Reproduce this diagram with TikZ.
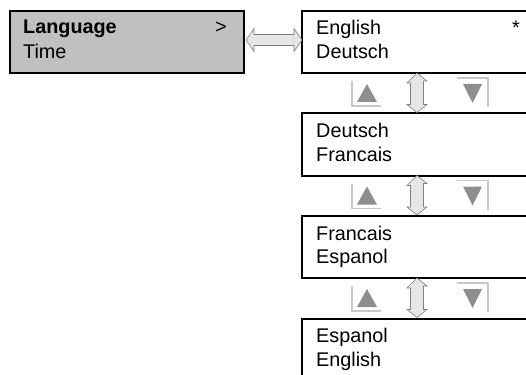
\documentclass[tikz,border=0pt]{standalone}
\usepackage{fontspec}
\setmainfont{Liberation Sans}
\definecolor{menugray}{HTML}{C0C0C0}
\definecolor{arrowfill}{HTML}{E6E6E6}
\definecolor{arrowline}{HTML}{7F7F7F}
\definecolor{trifill}{HTML}{8E8E8E}
\definecolor{framegray}{HTML}{C8C8C8}
\tikzset{
  lbox/.style={draw=black, line width=2pt, fill=menugray, minimum width=234pt, minimum height=62pt, inner sep=0pt, anchor=north west},
  rbox/.style={draw=black, line width=2pt, fill=white, minimum width=250pt, minimum height=62pt, inner sep=0pt, anchor=north west},
  txt/.style={font=\fontsize{19.8}{22}\selectfont, inner sep=0pt, anchor=base west},
  dbl/.style={draw=arrowline, fill=arrowfill, line width=0.6pt, line join=miter},
  tri/.style={fill=trifill},
  frame/.style={draw=framegray, line width=1.6pt},
}
\begin{document}
\begin{tikzpicture}[x=1pt, y=-1pt]
\clip (0,0) rectangle (526,374);
\fill[white] (0,0) rectangle (526,374);
% left menu box
\node[lbox] (menu) at (9,10) {};
\node[txt, font=\fontsize{19.8}{22}\selectfont\bfseries] (lang) at (23,34) {Language};
\node[txt] (time) at (23,58.5) {Time};
\node[txt] (gt) at (215,34) {>};
% right boxes
\node[rbox] (r0) at (301,10) {};
\node[rbox] (r1) at (301,112.5) {};
\node[rbox] (r2) at (301,215) {};
\node[rbox] (r3) at (301,317.5) {};
\node[txt] (r0a) at (316,35) {English};
\node[txt] (r0b) at (316,58.5) {Deutsch};
\node[txt] (star) at (512,35) {*};
\node[txt] (r1a) at (316,137.5) {Deutsch};
\node[txt] (r1b) at (316,161) {Francais};
\node[txt] (r2a) at (316,240) {Francais};
\node[txt] (r2b) at (316,263.5) {Espanol};
\node[txt] (r3a) at (316,342.5) {Espanol};
\node[txt] (r3b) at (316,366) {English};
% horizontal double arrow
\coordinate (hl) at ([xshift=1pt]menu.east |- 0,40);
\draw[dbl] (hl) -- ++(8,-11.5) -- ++(0,6) -- ++(40,0) -- ++(0,-6) -- ++(8,11.5)
  -- ++(-8,11.5) -- ++(0,-6) -- ++(-40,0) -- ++(0,6) -- cycle;
% gaps between right boxes
\foreach \a/\b in {r0/r1, r1/r2, r2/r3}{
  \coordinate (vt) at (417,0 |- \a.south);
  \coordinate (vb) at (417,0 |- \b.north);
  \draw[dbl] ([yshift=1pt]vt) -- ++(10,8) -- ++(-3.5,0) -- ([xshift=6.5pt,yshift=8pt]vb) -- ++(3.5,0)
    -- (vb) -- ++(-10,-8) -- ++(3.5,0) -- ([xshift=-6.5pt,yshift=-9pt]vt) -- ++(-3.5,0) -- cycle;
  % up button
  \coordinate (ub) at (352,0 |- \a.south);
  \draw[frame] ([yshift=-7pt]ub) -- ([yshift=-32pt]ub) -- ++(29,0);
  \fill[tri] ([xshift=15pt,yshift=-10pt]ub) -- ([xshift=25pt,yshift=-28pt]ub) -- ([xshift=5pt,yshift=-28pt]ub) -- cycle;
  % down button
  \coordinate (db) at (457,0 |- \a.south);
  \draw[frame] ([yshift=-4pt]db) -- ++(31,0) -- ++(0,29);
  \fill[tri] ([xshift=6pt,yshift=-10pt]db) -- ([xshift=25pt,yshift=-10pt]db) -- ([xshift=15.5pt,yshift=-29pt]db) -- cycle;
}
\end{tikzpicture}
\end{document}
